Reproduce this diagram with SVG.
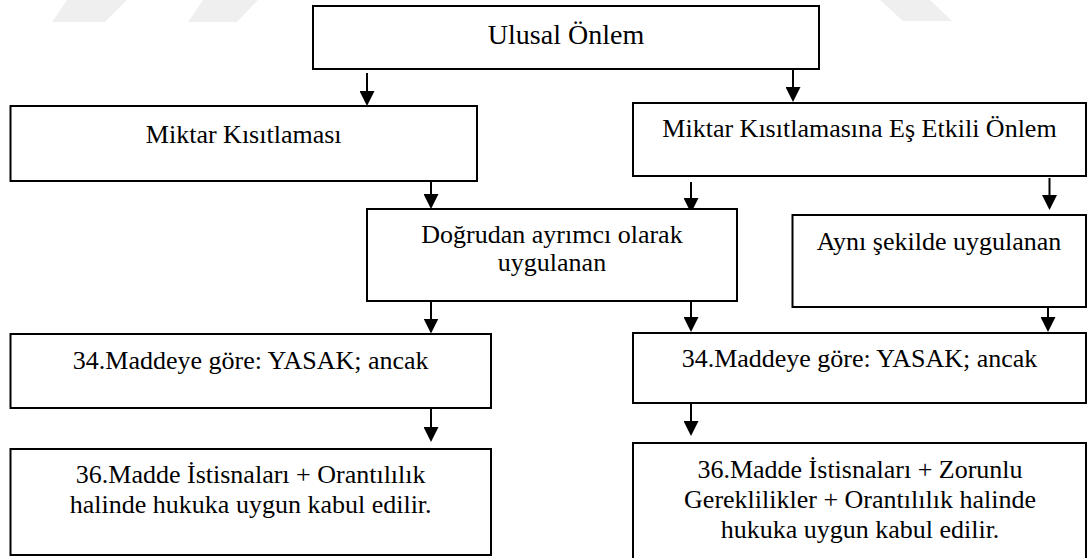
<svg xmlns="http://www.w3.org/2000/svg" width="1091" height="558" viewBox="0 0 1091 558">
<style>
.box{fill:#fff;stroke:#000;stroke-width:2}
.t{font-family:'Liberation Serif','DejaVu Serif',serif;font-size:26px;fill:#000;text-anchor:middle}
.big{font-size:28px}
.wm{fill:#efefef}
.c line{stroke:#000;stroke-width:2;marker-end:url(#ah)}
</style>
<defs>
<marker id="ah" viewBox="0 0 15 15" markerWidth="15" markerHeight="15" refX="11" refY="7.5" orient="auto" markerUnits="userSpaceOnUse">
<path d="M0,0 L15,7.5 L0,15 z" fill="#000"/>
</marker>
</defs>
<rect width="1091" height="558" fill="#fff"/>
<g id="watermark">
<polygon class="wm" points="67,0 127,0 105,22 52,22"/>
<polygon class="wm" points="203,0 258,0 237,22 188,22"/>
<polygon class="wm" points="880,0 930,0 952,21 903,21"/>
</g>
<g class="c" id="connectors">
<line x1="367" y1="73" x2="367" y2="102"/>
<line x1="793" y1="69" x2="793" y2="98"/>
<line x1="431" y1="177" x2="431" y2="205"/>
<line x1="691" y1="182" x2="691" y2="209"/>
<line x1="1049.5" y1="178" x2="1049.5" y2="206"/>
<line x1="431" y1="301" x2="431" y2="329.5"/>
<line x1="431" y1="408" x2="431" y2="438"/>
<line x1="691" y1="299" x2="691" y2="328"/>
<line x1="1048" y1="302" x2="1048" y2="328"/>
<line x1="691" y1="403" x2="691" y2="432"/>
</g>
<g id="n-ulusal">
<rect class="box" x="313" y="6" width="506" height="63"/>
<text class="t big" x="566" y="44" font-family="Liberation Serif">Ulusal Önlem</text>
</g>
<g id="n-miktar">
<rect class="box" x="10.5" y="106" width="466.5" height="75"/>
<text class="t" x="243.7" y="142.5">Miktar Kısıtlaması</text>
</g>
<g id="n-mkeeo">
<rect class="box" x="633" y="103" width="453" height="73"/>
<text class="t" x="859.5" y="137">Miktar Kısıtlamasına Eş Etkili Önlem</text>
</g>
<g id="n-dogrudan">
<rect class="box" x="367" y="209" width="370" height="92"/>
<text class="t" x="552" y="243">Doğrudan ayrımcı olarak</text>
<text class="t" x="552" y="271">uygulanan</text>
</g>
<g id="n-ayni">
<rect class="box" x="792.5" y="215" width="293.5" height="92"/>
<text class="t" x="939" y="250">Aynı şekilde uygulanan</text>
</g>
<g id="n-left34">
<rect class="box" x="10.5" y="334" width="480.5" height="74"/>
<text class="t" x="250.7" y="369">34.Maddeye göre: YASAK; ancak</text>
</g>
<g id="n-right34">
<rect class="box" x="633" y="333" width="453" height="70"/>
<text class="t" x="859.5" y="367">34.Maddeye göre: YASAK; ancak</text>
</g>
<g id="n-left36">
<rect class="box" x="10.5" y="449" width="480.5" height="106"/>
<text class="t" x="250.7" y="483">36.Madde İstisnaları + Orantılılık</text>
<text class="t" x="250.7" y="513">halinde hukuka uygun kabul edilir.</text>
</g>
<g id="n-right36">
<rect class="box" x="633" y="443" width="453" height="130"/>
<text class="t" x="860" y="477.5">36.Madde İstisnaları + Zorunlu</text>
<text class="t" x="860" y="507.5">Gereklilikler + Orantılılık halinde</text>
<text class="t" x="860" y="537.5">hukuka uygun kabul edilir.</text>
</g>
</svg>
